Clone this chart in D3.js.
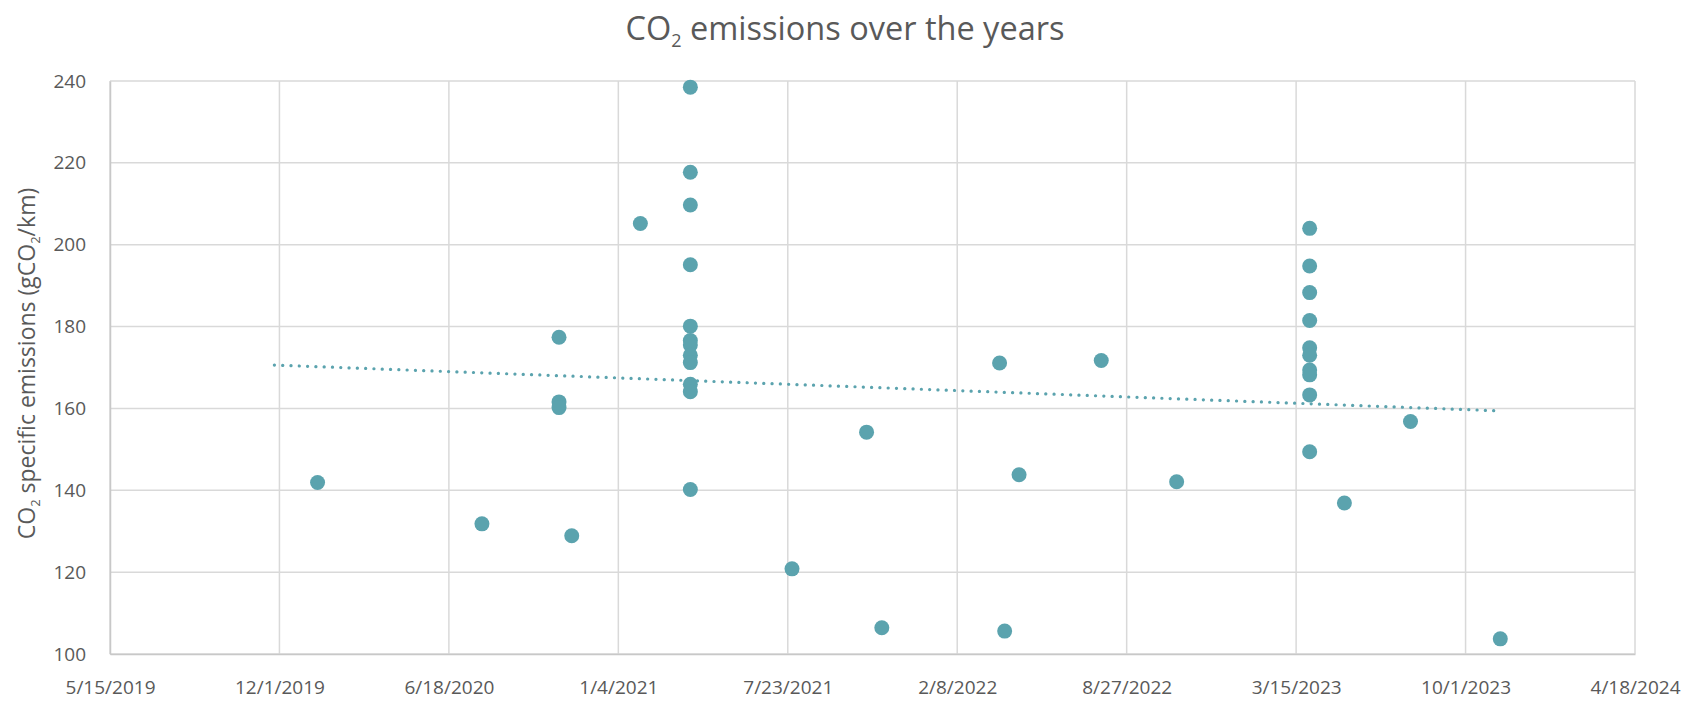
<!DOCTYPE html>
<html>
<head>
<meta charset="utf-8">
<script src="https://cdn.jsdelivr.net/npm/d3@7"></script>
<style>
  body { margin: 0; background: #fff; }
  text { font-family: "Open Sans", sans-serif; fill: #595959; }
</style>
</head>
<body>
<div id="svg-area"></div>
<script>
var svgWidth = 1689;
var svgHeight = 701;

var margin = { top: 81, right: 54, bottom: 47, left: 110 };

var chartHeight = svgHeight - margin.top - margin.bottom;
var chartWidth = svgWidth - margin.left - margin.right;

// data
var dates = [
  "2020-01-15", "2020-07-27", "2020-10-26", "2020-10-26", "2020-10-26", "2020-11-10",
  "2021-01-30",
  "2021-03-30", "2021-03-30", "2021-03-30", "2021-03-30", "2021-03-30", "2021-03-30",
  "2021-03-30", "2021-03-30", "2021-03-30", "2021-03-30", "2021-03-30", "2021-03-30",
  "2021-07-28", "2021-10-24", "2021-11-11", "2022-03-30", "2022-04-05", "2022-04-22",
  "2022-07-28", "2022-10-25",
  "2023-03-31", "2023-03-31", "2023-03-31", "2023-03-31", "2023-03-31",
  "2023-03-31", "2023-03-31", "2023-03-31", "2023-03-31", "2023-03-31",
  "2023-05-11", "2023-07-28", "2023-11-11"
];
var emissions = [
  141.9, 131.8, 177.4, 161.6, 160.2, 128.9,
  205.2,
  238.5, 217.7, 209.7, 195.1, 180.1, 176.6, 175.5, 173.0, 171.2, 165.9, 164.1, 140.2,
  120.8, 154.2, 106.4, 171.1, 105.6, 143.8,
  171.7, 142.1,
  204.0, 194.8, 188.3, 181.5, 174.8, 173.0, 169.4, 168.2, 163.3, 149.4,
  136.9, 156.8, 103.7
];

// linear trendline end points
var trendDates = ["2019-11-25", "2023-11-11"];
var trendValues = [170.6, 159.4];

var xTickLabels = ["5/15/2019", "12/1/2019", "6/18/2020", "1/4/2021", "7/23/2021",
  "2/8/2022", "8/27/2022", "3/15/2023", "10/1/2023", "4/18/2024"];
var yTicks = [100, 120, 140, 160, 180, 200, 220, 240];

var parseDate = d3.timeParse("%Y-%m-%d");
var parseTick = d3.timeParse("%m/%d/%Y");

var points = dates.map(function(d, i) {
  return { date: parseDate(d), value: emissions[i] };
});
var trend = trendDates.map(function(d, i) {
  return { date: parseDate(d), value: trendValues[i] };
});
var xTicks = xTickLabels.map(function(t) { return parseTick(t); });

var svg = d3.select("#svg-area").append("svg")
  .attr("width", svgWidth)
  .attr("height", svgHeight);

var chartGroup = svg.append("g")
  .attr("transform", `translate(${margin.left}, ${margin.top})`);

var xScale = d3.scaleUtc()
  .domain([xTicks[0], xTicks[xTicks.length - 1]])
  .range([0, chartWidth]);

var yScale = d3.scaleLinear()
  .domain([100, 240])
  .range([chartHeight, 0]);

// gridlines
chartGroup.append("g")
  .selectAll("line.hgrid")
  .data(yTicks)
  .enter()
  .append("line")
  .attr("x1", 0)
  .attr("x2", chartWidth)
  .attr("y1", function(d) { return yScale(d); })
  .attr("y2", function(d) { return yScale(d); })
  .attr("stroke", "#d9d9d9")
  .attr("stroke-width", 1.5);

chartGroup.append("g")
  .selectAll("line.vgrid")
  .data(xTicks)
  .enter()
  .append("line")
  .attr("x1", function(d) { return xScale(d); })
  .attr("x2", function(d) { return xScale(d); })
  .attr("y1", 0)
  .attr("y2", chartHeight)
  .attr("stroke", "#d9d9d9")
  .attr("stroke-width", 1.5);

// axes
var xAxis = d3.axisBottom(xScale)
  .tickValues(xTicks)
  .tickSize(0)
  .tickPadding(27)
  .tickFormat(function(d, i) { return xTickLabels[i]; });

var yAxis = d3.axisLeft(yScale)
  .tickValues(yTicks)
  .tickSize(0)
  .tickPadding(24);

var gx = chartGroup.append("g")
  .attr("transform", `translate(0, ${chartHeight})`)
  .call(xAxis);
var gy = chartGroup.append("g").call(yAxis);

gx.select(".domain").attr("stroke", "#c8c8c8").attr("stroke-width", 1.5);
gy.select(".domain").attr("stroke", "#c8c8c8").attr("stroke-width", 1.5);
gx.selectAll("text").style("font-size", "19px").style("fill", "#595959")
  .style("font-family", "Open Sans, sans-serif");
gy.selectAll("text").style("font-size", "19px").style("fill", "#595959")
  .style("font-family", "Open Sans, sans-serif");

// trendline
var trendLine = d3.line()
  .x(function(d) { return xScale(d.date); })
  .y(function(d) { return yScale(d.value); });

chartGroup.append("path")
  .datum(trend)
  .attr("d", trendLine)
  .attr("fill", "none")
  .attr("stroke", "#5ba3ae")
  .attr("stroke-width", 3.2)
  .attr("stroke-linecap", "round")
  .attr("stroke-dasharray", "0.1 8.2");

// points
chartGroup.selectAll("circle")
  .data(points)
  .enter()
  .append("circle")
  .attr("cx", function(d) { return xScale(d.date); })
  .attr("cy", function(d) { return yScale(d.value); })
  .attr("r", 7.5)
  .attr("fill", "#5ba3ae");

// title
var title = svg.append("text")
  .attr("x", 845)
  .attr("y", 40)
  .attr("text-anchor", "middle")
  .style("font-size", "32.5px");
title.append("tspan").text("CO");
title.append("tspan").text("2").attr("dy", 7).style("font-size", "18px");
title.append("tspan").text(" emissions over the years").attr("dy", -7);

// y axis label
var yLabel = svg.append("text")
  .attr("transform", `translate(35, ${margin.top + chartHeight / 2 - 4}) rotate(-90)`)
  .attr("text-anchor", "middle")
  .style("font-size", "23px");
yLabel.append("tspan").text("CO");
yLabel.append("tspan").text("2").attr("dy", 5).style("font-size", "13px");
yLabel.append("tspan").text(" specific emissions (gCO").attr("dy", -5);
yLabel.append("tspan").text("2").attr("dy", 5).style("font-size", "13px");
yLabel.append("tspan").text("/km)").attr("dy", -5);
</script>
</body>
</html>
